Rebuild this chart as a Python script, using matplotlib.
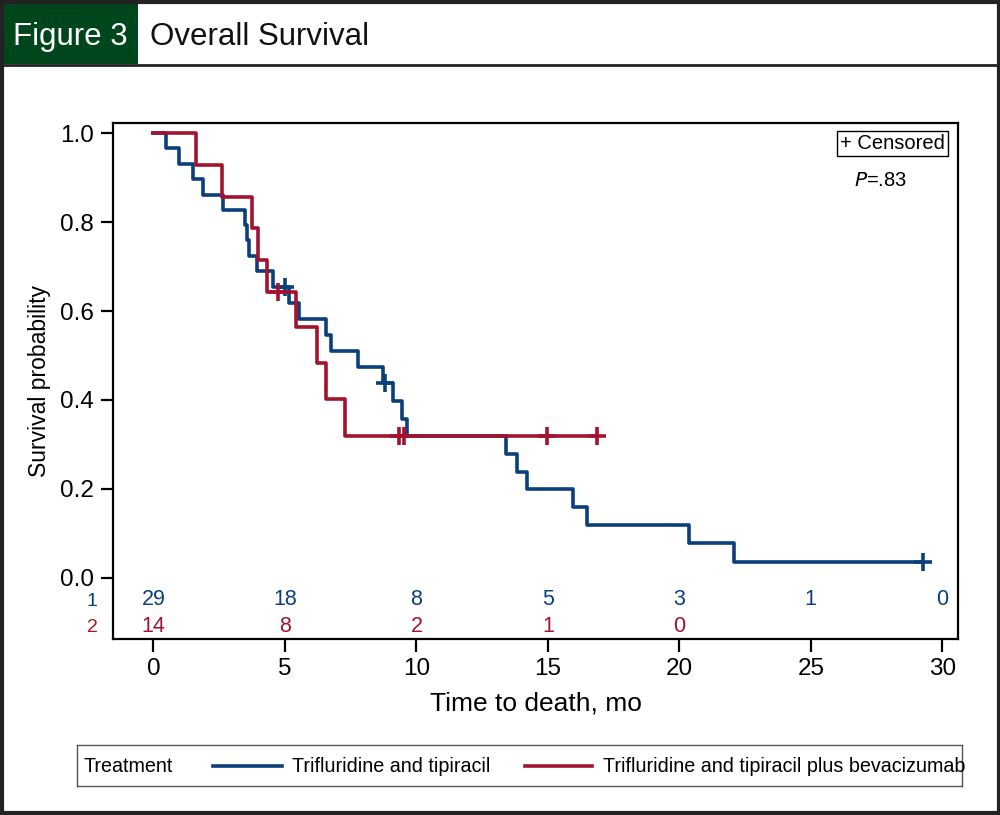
import matplotlib
matplotlib.use("Agg")
import matplotlib.pyplot as plt
from matplotlib import font_manager
from matplotlib.patches import Rectangle
from matplotlib.lines import Line2D

# narrow font if available (the original uses a condensed sans)
names = {f.name for f in font_manager.fontManager.ttflist}
if "Liberation Sans Narrow" in names:
    FONT = "Liberation Sans Narrow"
else:
    FONT = "Liberation Sans"
plt.rcParams["font.family"] = [FONT, "DejaVu Sans"]

BLUE = "#0b3f7c"
RED = "#a3122f"
GREEN = "#00461d"

# group 1: Trifluridine and tipiracil (step times in months, survival after each step)
t1 = [0, 0.48, 0.98, 1.51, 1.89, 2.66, 3.48, 3.57, 3.63, 3.92, 4.53, 5.17, 5.53,
      6.57, 6.75, 7.79, 8.74, 9.12, 9.44, 9.63, 13.41, 13.81, 14.2, 15.94, 16.5,
      20.38, 22.08]
s1 = [1.0, 0.966, 0.931, 0.897, 0.862, 0.828, 0.793, 0.759, 0.724, 0.690, 0.655,
      0.619, 0.582, 0.546, 0.510, 0.473, 0.437, 0.397, 0.357, 0.318, 0.278, 0.238,
      0.199, 0.159, 0.119, 0.079, 0.036]
end1 = 29.28
cens_t1 = [5.0, 8.8, 29.28]
cens_s1 = [0.655, 0.437, 0.036]

# group 2: Trifluridine and tipiracil plus bevacizumab
t2 = [0, 1.6, 2.62, 3.73, 3.99, 4.33, 5.42, 6.23, 6.56, 7.28]
s2 = [1.0, 0.929, 0.857, 0.786, 0.714, 0.643, 0.563, 0.482, 0.402, 0.318]
end2 = 16.88
cens_t2 = [4.75, 9.34, 9.53, 14.98, 16.88]
cens_s2 = [0.643, 0.318, 0.318, 0.318, 0.318]

# numbers at risk
risk_times = [0, 5, 10, 15, 20, 25, 30]
risk1 = [29, 18, 8, 5, 3, 1, 0]
risk2 = [14, 8, 2, 1, 0]

labels = ["Trifluridine and tipiracil", "Trifluridine and tipiracil plus bevacizumab"]

fig = plt.figure(figsize=(10, 8.15), dpi=100)
ax = fig.add_axes([0.113, 0.216, 0.845, 0.633])

ax.step(t1 + [end1], s1 + [s1[-1]], where="post", color=BLUE, lw=2.6)
ax.step(t2 + [end2], s2 + [s2[-1]], where="post", color=RED, lw=2.6)
ax.plot(cens_t1, cens_s1, ls="none", marker="+", ms=13, mew=2.6, color=BLUE)
ax.plot(cens_t2, cens_s2, ls="none", marker="+", ms=13, mew=2.6, color=RED)

ax.set_xlim(-1.54, 30.6)
ax.set_ylim(-0.138, 1.023)
ax.set_xticks(risk_times)
ax.set_yticks([0.0, 0.2, 0.4, 0.6, 0.8, 1.0])
ax.set_yticklabels(["0.0", "0.2", "0.4", "0.6", "0.8", "1.0"])
ax.tick_params(labelsize=17.5, length=9, width=1.6, direction="out", pad=5)
for sp in ax.spines.values():
    sp.set_linewidth(1.6)

ax.set_xlabel("Time to death, mo", fontsize=19, labelpad=8)
ax.set_ylabel("Survival probability", fontsize=16.5, labelpad=6)

# at-risk table inside the axes
for x, n in zip(risk_times, risk1):
    ax.text(x, -0.050, str(n), color=BLUE, fontsize=15.5, ha="center", va="center")
for x, n in zip(risk_times, risk2):
    ax.text(x, -0.109, str(n), color=RED, fontsize=15.5, ha="center", va="center")
ax.text(-2.34, -0.053, "1", color=BLUE, fontsize=14, ha="center", va="center", clip_on=False)
ax.text(-2.34, -0.112, "2", color=RED, fontsize=14, ha="center", va="center", clip_on=False)

ax.text(0.923, 0.961, "+ Censored", transform=ax.transAxes, fontsize=14.5, ha="center",
        va="center", bbox=dict(boxstyle="square,pad=0.15", fc="white", ec="black", lw=1))
ax.text(0.908, 0.889, "$\\it{P}$=.83", transform=ax.transAxes, fontsize=14.5, ha="center", va="center")

# legend box along the bottom
lax = fig.add_axes([0.077, 1 - 786 / 815, 0.885, 41 / 815])
lax.set_xlim(0, 885)
lax.set_ylim(0, 41)
lax.set_xticks([])
lax.set_yticks([])
for sp in lax.spines.values():
    sp.set_linewidth(1.0)
    sp.set_color("#555555")
lax.text(7, 20, "Treatment", fontsize=14.2, va="center")
lax.plot([136, 205], [20, 20], color=BLUE, lw=2.6)
lax.text(215, 20, labels[0], fontsize=14.2, va="center")
lax.plot([448, 515], [20, 20], color=RED, lw=2.6)
lax.text(526, 20, labels[1], fontsize=14.2, va="center")

# header band and outer frame
fig.add_artist(Rectangle((0, 1 - 64 / 815), 0.138, 62 / 815, transform=fig.transFigure,
                         fc=GREEN, ec="none"))
fig.add_artist(Line2D([0, 1], [1 - 64.5 / 815, 1 - 64.5 / 815], transform=fig.transFigure,
                      color="#222222", lw=2))
fig.text(0.070, 1 - 37 / 815, "Figure 3", color="white", fontsize=22.5, ha="center", va="center")
fig.text(0.150, 1 - 37 / 815, "Overall Survival", color="#111111", fontsize=22.5, ha="left", va="center")
fig.add_artist(Rectangle((0.0015, 0.002), 0.997, 0.996, transform=fig.transFigure,
                         fc="none", ec="#222222", lw=3))

fig.savefig("out.png", dpi=100)
